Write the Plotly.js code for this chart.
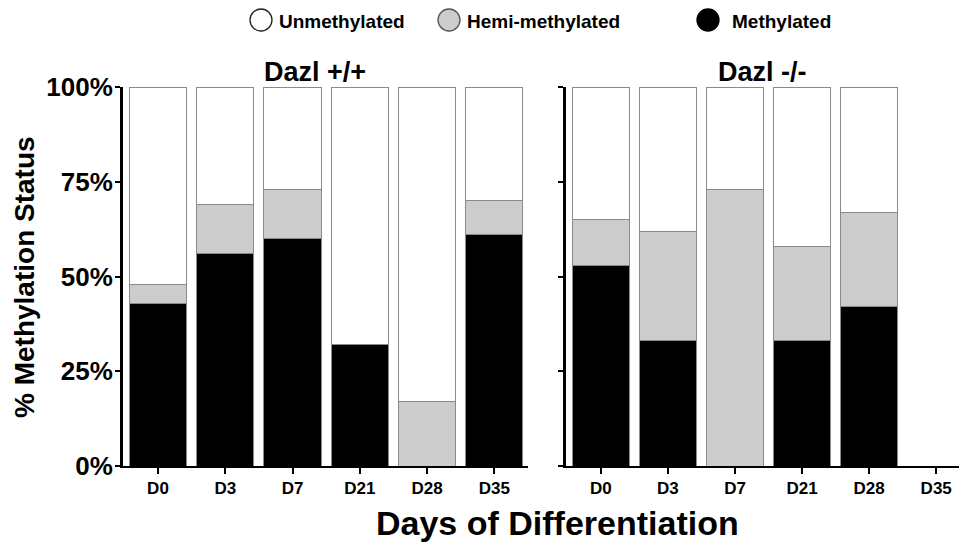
<!DOCTYPE html>
<html>
<head>
<meta charset="utf-8">
<script src="https://cdn.plot.ly/plotly-3.0.1.min.js"></script>
<style>html,body{margin:0;padding:0;background:#fff;}#chart{width:959px;height:543px;}</style>
</head>
<body>
<div id="chart"></div>
<script>
// Categories (days of differentiation)
var days = ['D0', 'D3', 'D7', 'D21', 'D28', 'D35'];
// Dazl +/+ (percent of clones)
var wtMethylated   = [43, 56, 60, 32, 0, 61];
var wtHemi         = [5, 13, 13, 0, 17, 9];
var wtUnmethylated = [52, 31, 27, 68, 83, 30];
// Dazl -/- (no D35 sample)
var koMethylated   = [53, 33, 0, 33, 42, null];
var koHemi         = [12, 29, 73, 25, 25, null];
var koUnmethylated = [35, 38, 27, 42, 33, null];
var yTicks = [0, 25, 50, 75, 100];
var yTickText = ['0%', '25%', '50%', '75%', '100%'];
var legendNames = ['Unmethylated', 'Hemi-methylated', 'Methylated'];

var FONT = 'Liberation Sans, Arial, Helvetica, sans-serif';
var cMeth = '#000000', cHemi = '#cccccc', cUn = '#ffffff';
var outline = {color: '#8a8a8a', width: 1};

function bar(x, y, color, xa, ya, name) {
  return {type: 'bar', x: x, y: y, xaxis: xa, yaxis: ya, name: name,
          marker: {color: color, line: outline}, showlegend: false, hoverinfo: 'y'};
}
var data = [
  bar(days, wtMethylated, cMeth, 'x', 'y', 'Methylated'),
  bar(days, wtHemi, cHemi, 'x', 'y', 'Hemi-methylated'),
  bar(days, wtUnmethylated, cUn, 'x', 'y', 'Unmethylated'),
  bar(days, koMethylated, cMeth, 'x2', 'y2', 'Methylated'),
  bar(days, koHemi, cHemi, 'x2', 'y2', 'Hemi-methylated'),
  bar(days, koUnmethylated, cUn, 'x2', 'y2', 'Unmethylated')
];

var W = 959, H = 543;
function px(x) { return x / W; }
function py(y) { return (H - y) / H; }
var yDom = [py(466), py(87)];
var xCommon = {type: 'category', showline: true, linecolor: '#000', linewidth: 2,
  ticks: 'outside', ticklen: 6, tickwidth: 2, tickcolor: '#000',
  tickfont: {family: FONT, size: 17, color: '#000', weight: 'bold'},
  showgrid: false, zeroline: false, fixedrange: true};
var yCommon = {range: [0, 100], tickvals: yTicks, ticktext: yTickText,
  showline: true, linecolor: '#000', linewidth: 3, ticks: 'outside', ticklen: 5, tickwidth: 2,
  tickcolor: '#000', showgrid: false, zeroline: false, domain: yDom, fixedrange: true,
  ticklabelstandoff: -3,
  tickfont: {family: FONT, size: 26, color: '#000', weight: 'bold'}};

// Legend (circle keys + labels) drawn at the top
var legendCircles = [[250, 272, cUn, '#222'], [438, 460, cHemi, '#555'], [697, 719, cMeth, '#000']];
var legendTextX = [279, 467, 732];
var shapes = legendCircles.map(function (c) {
  return {type: 'circle', xref: 'paper', yref: 'paper', x0: px(c[0]), x1: px(c[1]),
          y0: py(31), y1: py(9), fillcolor: c[2], line: {color: c[3], width: 1.3}};
});
var annotations = legendNames.map(function (n, i) {
  return {text: n, xref: 'paper', yref: 'paper', x: px(legendTextX[i]), y: py(21),
          showarrow: false, xanchor: 'left', yanchor: 'middle', xshift: -2,
          font: {family: FONT, size: 19, color: '#000', weight: 'bold'}};
});
annotations = annotations.concat([
  {text: 'Dazl +/+', xref: 'paper', yref: 'paper', x: px(315), y: py(72),
   showarrow: false, xanchor: 'center', yanchor: 'middle',
   font: {family: FONT, size: 27, color: '#000', weight: 'bold'}},
  {text: 'Dazl -/-', xref: 'paper', yref: 'paper', x: px(762), y: py(72),
   showarrow: false, xanchor: 'center', yanchor: 'middle',
   font: {family: FONT, size: 27, color: '#000', weight: 'bold'}},
  {text: 'Days of Differentiation', xref: 'paper', yref: 'paper', x: px(557), y: py(523),
   showarrow: false, xanchor: 'center', yanchor: 'middle',
   font: {family: FONT, size: 34, color: '#000', weight: 'bold'}},
  {text: '% Methylation Status', xref: 'paper', yref: 'paper', x: px(25), y: py(277),
   showarrow: false, xanchor: 'center', yanchor: 'middle', textangle: -90,
   font: {family: FONT, size: 28, color: '#000', weight: 'bold'}}
]);

var layout = {
  width: W, height: H, margin: {l: 0, r: 0, t: 0, b: 0},
  paper_bgcolor: '#fff', plot_bgcolor: '#fff',
  barmode: 'stack', bargap: 0.15, showlegend: false,
  font: {family: FONT, color: '#000'},
  xaxis: Object.assign({}, xCommon, {domain: [px(123), px(528)], range: [-0.52, 5.5], anchor: 'y'}),
  xaxis2: Object.assign({}, xCommon, {domain: [px(566), 1], range: [-0.52, 5.34], anchor: 'y2'}),
  yaxis: Object.assign({}, yCommon, {anchor: 'x'}),
  yaxis2: Object.assign({}, yCommon, {anchor: 'x2', showticklabels: false}),
  shapes: shapes,
  annotations: annotations
};
Plotly.newPlot('chart', data, layout, {displayModeBar: false, staticPlot: true});
</script>
</body>
</html>
